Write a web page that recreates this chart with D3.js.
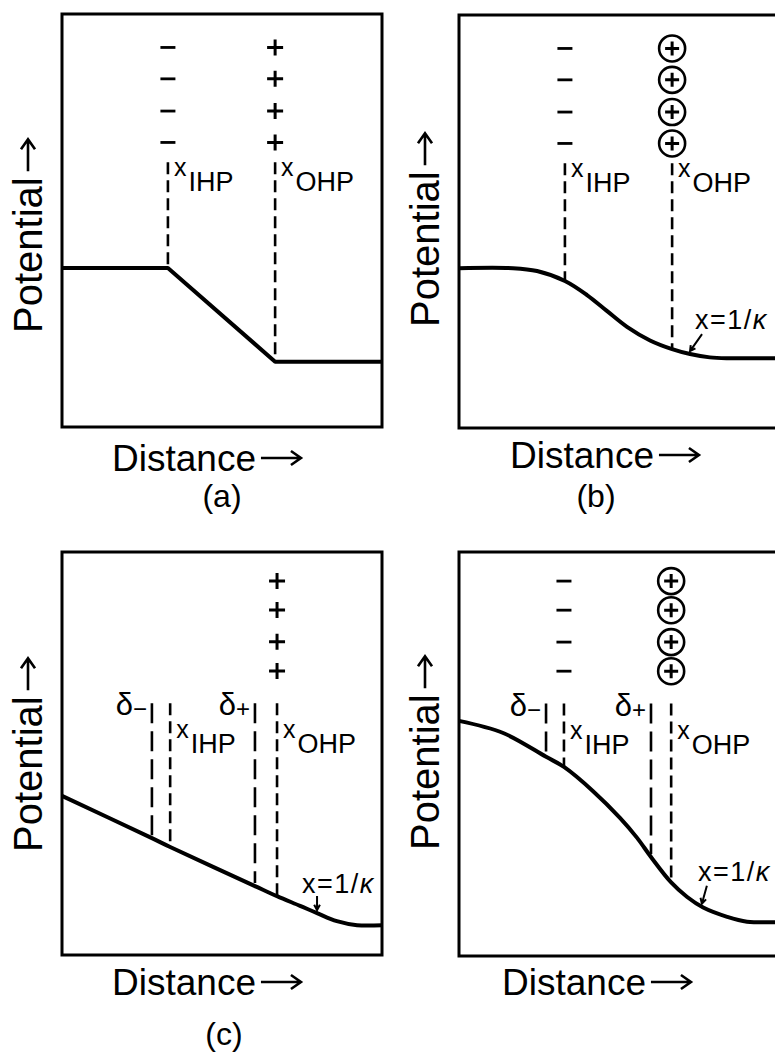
<!DOCTYPE html>
<html>
<head>
<meta charset="utf-8">
<script src="https://cdn.jsdelivr.net/npm/d3@7"></script>
<style>
  body { margin: 0; background: #fff; }
  svg { display: block; }
  text { font-family: "Liberation Sans", Arial, sans-serif; fill: #000; }
</style>
</head>
<body>
<svg id="chart" width="775" height="1057"></svg>
<script>
// Potential profiles through the double layer (distance and potential in arbitrary units, 0-10)
const distanceA  = [0, 3.31, 6.66, 10];
const potentialA = [3.85, 3.85, 1.58, 1.58];

const distanceB  = [0, 1.69, 2.44, 3.31, 4.0, 4.63, 5.25, 5.97, 6.66, 7.22, 7.84, 8.5, 10];
const potentialB = [3.87, 3.87, 3.80, 3.56, 3.22, 2.83, 2.45, 2.12, 1.91, 1.79, 1.71, 1.69, 1.69];

const distanceC  = [0, 2.81, 3.38, 6.03, 6.72, 7.44, 7.97, 8.59, 9.22, 10];
const potentialC = [3.95, 2.90, 2.68, 1.71, 1.46, 1.22, 1.04, 0.84, 0.74, 0.74];

const distanceD  = [0, 1.38, 2.72, 3.28, 4.19, 5.03, 5.56, 6.0, 6.63, 7.13, 7.63, 8.38, 9.0, 10];
const potentialD = [5.82, 5.52, 4.93, 4.68, 4.08, 3.42, 2.93, 2.45, 1.82, 1.46, 1.20, 0.97, 0.85, 0.84];

// Planes marked by dashed lines: name and distance
const planeNamesAB = ["IHP", "OHP"];
const planeDistA   = [3.31, 6.66];
const planeDistB   = [3.31, 6.66];
const planeNamesCD = ["δ-", "IHP", "δ+", "OHP"];
const planeDistC   = [2.81, 3.38, 6.03, 6.72];
const planeDistD   = [2.72, 3.28, 6.0, 6.63];

// Height at which the dashed plane markers start
const planeTopAB = 6.41;
const planeTopCD = 6.25;

// Stacked ion charges drawn above the planes
const chargeLevelsAB = [9.19, 8.43, 7.65, 6.89];
const chargeLevelsCD = [9.28, 8.56, 7.77, 7.05];

// Position of x = 1/κ on each diffuse-layer profile (none in panel a)
const debyeDist = [null, 7.22, 7.97, 7.59];

const captions = ["(a)", "(b)", "(c)", ""];
const axisX = "Distance";
const axisY = "Potential";

const svg = d3.select("#chart");

// Frame geometry of each panel on the page
const frames = [
  { left: 62,  top: 14,  bottom: 427, yLab: 333, xLab: 112, distBase: 471, capX: 222, capBase: 507 },
  { left: 459, top: 15,  bottom: 428, yLab: 327, xLab: 510, distBase: 468, capX: 596, capBase: 507 },
  { left: 62,  top: 552, bottom: 955, yLab: 852, xLab: 112, distBase: 995, capX: 224, capBase: 1045 },
  { left: 459, top: 552, bottom: 956, yLab: 850, xLab: 502, distBase: 995, capX: 0,   capBase: 0 }
];

const panels = [
  { dist: distanceA, pot: potentialA, curve: d3.curveLinear,
    names: planeNamesAB, planes: planeDistA, top: planeTopAB, levels: chargeLevelsAB,
    minusAt: "IHP", plusAt: "OHP", circled: false, labelDrop: 14 },
  { dist: distanceB, pot: potentialB, curve: d3.curveCatmullRom.alpha(0.5),
    names: planeNamesAB, planes: planeDistB, top: planeTopAB, levels: chargeLevelsAB,
    minusAt: "IHP", plusAt: "OHP", circled: true, labelDrop: 14 },
  { dist: distanceC, pot: potentialC, curve: d3.curveCatmullRom.alpha(0.5),
    names: planeNamesCD, planes: planeDistC, top: planeTopCD, levels: chargeLevelsCD,
    minusAt: null, plusAt: "OHP", circled: false, labelDrop: 35 },
  { dist: distanceD, pot: potentialD, curve: d3.curveCatmullRom.alpha(0.5),
    names: planeNamesCD, planes: planeDistD, top: planeTopCD, levels: chargeLevelsCD,
    minusAt: "IHP", plusAt: "OHP", circled: true, labelDrop: 35 }
];

// Linear lookup of the potential at a given distance
function potentialAt(dist, pot, x) {
  for (let i = 1; i < dist.length; i++) {
    if (x <= dist[i]) {
      const t = (x - dist[i - 1]) / (dist[i] - dist[i - 1]);
      return pot[i - 1] + t * (pot[i] - pot[i - 1]);
    }
  }
  return pot[pot.length - 1];
}

// Open-headed arrow along the +x direction of the current group
function arrowRight(g, x0, x1, yy) {
  g.append("path")
    .attr("d", `M${x0},${yy}H${x1}M${x1 - 10},${yy - 7}L${x1},${yy}L${x1 - 10},${yy + 7}`)
    .attr("fill", "none").attr("stroke", "#000").attr("stroke-width", 2.6)
    .attr("stroke-linejoin", "miter");
}

panels.forEach((p, i) => {
  const f = frames[i];
  const x = d3.scaleLinear().domain([0, 10]).range([f.left, f.left + 320]);
  const y = d3.scaleLinear().domain([0, 10]).range([f.bottom, f.top]);
  const g = svg.append("g");

  // frame
  g.append("rect")
    .attr("x", x(0)).attr("y", y(10))
    .attr("width", x(10) - x(0)).attr("height", y(0) - y(10))
    .attr("fill", "none").attr("stroke", "#000").attr("stroke-width", 3);

  // dashed plane markers
  p.planes.forEach((d, k) => {
    const name = p.names[k];
    const isDelta = name.startsWith("δ");
    const yEnd = y(potentialAt(p.dist, p.pot, d)) - (isDelta ? 3 : 0);
    g.append("line")
      .attr("x1", x(d)).attr("x2", x(d))
      .attr("y1", y(p.top)).attr("y2", yEnd)
      .attr("stroke", "#000").attr("stroke-width", 2.6)
      .attr("stroke-dasharray", isDelta ? "20 8" : "12 6");

    if (isDelta) {
      const t = g.append("text")
        .attr("x", x(d) - 5).attr("y", y(p.top) + 12)
        .attr("text-anchor", "end").attr("font-size", 31);
      t.append("tspan").text("δ");
      t.append("tspan").attr("font-size", 24).attr("dy", 2)
        .text(name.endsWith("-") ? "−" : "+");
    } else {
      const t = g.append("text")
        .attr("x", x(d) + 6).attr("y", y(p.top) + p.labelDrop);
      t.append("tspan").attr("font-size", 25).text("x");
      t.append("tspan").attr("font-size", 27).attr("dx", 2).attr("dy", 15).text(name);
    }
  });

  // charges stacked above the planes
  const planeX = name => p.planes[p.names.indexOf(name)];
  if (p.minusAt) {
    const cx = x(planeX(p.minusAt));
    p.levels.forEach(v => {
      g.append("line")
        .attr("x1", cx - 7.5).attr("x2", cx + 7.5)
        .attr("y1", y(v)).attr("y2", y(v))
        .attr("stroke", "#000").attr("stroke-width", 2.8);
    });
  }
  if (p.plusAt) {
    const cx = x(planeX(p.plusAt));
    p.levels.forEach(v => {
      const cy = y(v);
      const h = p.circled ? 7 : 8;
      if (p.circled) {
        g.append("circle").attr("cx", cx).attr("cy", cy).attr("r", 13)
          .attr("fill", "none").attr("stroke", "#000").attr("stroke-width", 2.6);
      }
      g.append("path")
        .attr("d", `M${cx - h},${cy}H${cx + h}M${cx},${cy - h}V${cy + h}`)
        .attr("stroke", "#000").attr("stroke-width", 3).attr("fill", "none");
    });
  }

  // potential profile
  const pts = p.dist.map((d, k) => [d, p.pot[k]]);
  g.append("path")
    .attr("d", d3.line().x(d => x(d[0])).y(d => y(d[1])).curve(p.curve)(pts))
    .attr("fill", "none").attr("stroke", "#000").attr("stroke-width", 4)
    .attr("stroke-linejoin", "round");

  // x = 1/κ marker
  const kd = debyeDist[i];
  if (kd !== null) {
    const tx = x(kd), ty = y(potentialAt(p.dist, p.pot, kd)) - 3;
    const off = [null, [12, -17], [0, -14], [5, -18]][i];
    const sx = tx + off[0], sy = ty + off[1];
    const ang = Math.atan2(ty - sy, tx - sx);
    const a1 = ang + Math.PI - 0.5, a2 = ang + Math.PI + 0.5;
    g.append("path")
      .attr("d", `M${sx},${sy}L${tx},${ty}M${tx + 6 * Math.cos(a1)},${ty + 6 * Math.sin(a1)}L${tx},${ty}L${tx + 6 * Math.cos(a2)},${ty + 6 * Math.sin(a2)}`)
      .attr("fill", "none").attr("stroke", "#000").attr("stroke-width", 2);
    const lab = [null, [5, -22], [-15, -17], [-4, -23]][i];
    const t = g.append("text")
      .attr("x", tx + lab[0]).attr("y", ty + lab[1])
      .attr("font-size", 27).attr("letter-spacing", 1.5);
    t.append("tspan").text("x=1/");
    t.append("tspan").attr("font-style", "italic").text("κ");
  }

  // axis titles with drawn arrows
  const gy = g.append("g")
    .attr("transform", `translate(${f.left - 20},${f.yLab}) rotate(-90)`);
  const ty = gy.append("text").attr("font-size", 40).text(axisY);
  const ly = ty.node().getComputedTextLength();
  arrowRight(gy, ly + 6, ly + 38, -14);

  const gx = g.append("g").attr("transform", `translate(${f.xLab},${f.distBase})`);
  const tx = gx.append("text").attr("font-size", 37).text(axisX);
  const lx = tx.node().getComputedTextLength();
  arrowRight(gx, lx + 5, lx + 45, -13);

  if (captions[i]) {
    g.append("text")
      .attr("x", f.capX).attr("y", f.capBase)
      .attr("text-anchor", "middle").attr("font-size", 32).text(captions[i]);
  }
});
</script>
</body>
</html>
